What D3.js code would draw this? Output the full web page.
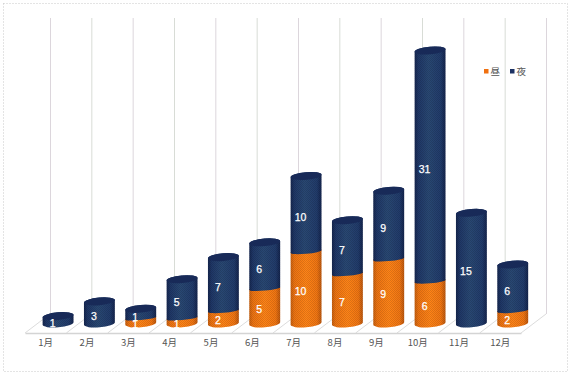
<!DOCTYPE html>
<html lang="ja">
<head>
<meta charset="utf-8">
<script src="https://cdn.jsdelivr.net/npm/d3@7"></script>
<style>
  html, body { margin: 0; padding: 0; background: #fff; }
  svg { display: block; }
  text { font-family: "Noto Sans CJK JP", "Liberation Sans", sans-serif; }
</style>
</head>
<body>
<div id="chart"></div>
<script>
const months = ['1月', '2月', '3月', '4月', '5月', '6月', '7月', '8月', '9月', '10月', '11月', '12月'];
const dayValues = [0, 0, 1, 1, 2, 5, 10, 7, 9, 6, 0, 2];
const nightValues = [1, 3, 1, 5, 7, 6, 10, 7, 9, 31, 15, 6];
const seriesNames = ['昼', '夜'];

const width = 570;
const height = 373;
const floor = { left: 25, right: 521, front: 333, dx: 25, dy: 19 };
const wallTop = 18;
const barOffset = 12.4;
const rx = 15.5;
const ry = 3.8;
const jointRy = 2;
const tilt = -5;

const svg = d3.select('#chart').append('svg').attr('width', width).attr('height', height);
const defs = svg.append('defs');

function addGradient(id, stops) {
  const grad = defs.append('linearGradient').attr('id', id);
  stops.forEach(([offset, color]) => grad.append('stop').attr('offset', offset).attr('stop-color', color));
}
addGradient('navy', [[0, '#15264f'], [0.12, '#1f3767'], [0.45, '#294873'], [0.85, '#213b6b'], [1, '#14244d']]);
addGradient('orange', [[0, '#c8600f'], [0.12, '#ee7412'], [0.5, '#ff8418'], [0.85, '#f27612'], [1, '#bd580e']]);

// dither texture of the original
const dither = defs.append('pattern').attr('id', 'dither')
  .attr('width', 2).attr('height', 2).attr('patternUnits', 'userSpaceOnUse');
dither.append('rect').attr('width', 1).attr('height', 1).attr('fill', '#000').attr('opacity', 0.12);
dither.append('rect').attr('x', 1).attr('y', 1).attr('width', 1).attr('height', 1).attr('fill', '#000').attr('opacity', 0.12);

// frame
svg.append('rect')
  .attr('x', 3.5).attr('y', 3.5)
  .attr('width', 564).attr('height', 368)
  .attr('fill', 'none')
  .attr('stroke', '#c8c8c8')
  .attr('stroke-dasharray', '1 2');

const x = d3.scaleBand().domain(months).range([floor.left, floor.right]);
const barX = d3.scaleBand().domain(months)
  .range([floor.left + barOffset, floor.right + barOffset])
  .paddingInner(0.25).paddingOuter(0.125);
const y = d3.scaleLinear().domain([0, 37]).range([323.5, 50.5]);

const g = svg.append('g');

// back wall lines
const edges = d3.range(months.length + 1).map(i => floor.left + i * x.step());
g.append('g').selectAll('line').data(edges).join('line')
  .attr('x1', d => d + floor.dx + 0.5)
  .attr('x2', d => d + floor.dx + 0.5)
  .attr('y1', wallTop)
  .attr('y2', floor.front - floor.dy)
  .attr('stroke', (d, i) => (i % 2 ? '#d8dcd6' : '#dcd6dc'));

// floor diagonals
g.append('g').selectAll('line').data(edges).join('line')
  .attr('x1', d => d)
  .attr('x2', d => d + floor.dx)
  .attr('y1', floor.front)
  .attr('y2', floor.front - floor.dy)
  .attr('stroke', '#dcdcdc');

// month axis on the front edge of the floor
const axis = g.append('g')
  .attr('transform', `translate(0,${floor.front})`)
  .call(d3.axisBottom(x).tickSize(0).tickPadding(6));
axis.select('.domain').attr('stroke', '#d4d4d4').attr('stroke-width', 1.5);
axis.selectAll('text').attr('font-size', 9.5).attr('fill', '#555')
  .style('font-family', '"Noto Sans CJK JP", sans-serif');

const rad = tilt * Math.PI / 180;
const ex = rx * Math.cos(rad);
const ey = rx * Math.sin(rad);

// side of a cylinder piece: cy0 is the upper level, cy1 the lower level
function sidePath(cx, cy0, cy1, lowerRy) {
  return `M${cx - ex},${cy0 - ey}L${cx - ex},${cy1 - ey}`
    + `A${rx},${lowerRy} ${tilt} 0 0 ${cx + ex},${cy1 + ey}`
    + `L${cx + ex},${cy0 + ey}`
    + `A${rx},${ry} ${tilt} 0 0 ${cx - ex},${cy0 - ey}Z`;
}

const rows = months.map((m, i) => ({ month: m, day: dayValues[i], night: nightValues[i] }));
const bars = g.append('g').selectAll('g').data(rows).join('g');
const cx = d => barX(d.month) + barX.bandwidth() / 2;
const joint = d => y(d.day) + 2;

const dayBars = bars.filter(d => d.day > 0);
dayBars.append('path')
  .attr('d', d => sidePath(cx(d), joint(d), y(0), ry))
  .attr('fill', 'url(#orange)');
dayBars.append('path')
  .attr('d', d => sidePath(cx(d), joint(d), y(0), ry))
  .attr('fill', 'url(#dither)');

// the night piece sits on the day piece, so it goes on top
const nightPath = d => (d.day > 0
  ? sidePath(cx(d), y(d.day + d.night), joint(d), jointRy)
  : sidePath(cx(d), y(d.night), y(0), ry));
bars.append('path').attr('d', nightPath).attr('fill', 'url(#navy)');
bars.append('path').attr('d', nightPath).attr('fill', 'url(#dither)');

bars.append('ellipse')
  .attr('rx', rx).attr('ry', ry)
  .attr('transform', d => `translate(${cx(d)},${y(d.day + d.night)}) rotate(${tilt})`)
  .attr('fill', '#182a58');

// value labels
function addLabels(sel, value, mid) {
  sel.append('text')
    .attr('x', d => cx(d) - 5.5)
    .attr('y', d => mid(d) + 3.5)
    .attr('dy', '0.35em')
    .attr('text-anchor', 'middle')
    .attr('fill', '#fff')
    .attr('stroke', '#fff')
    .attr('stroke-width', 0.25)
    .attr('font-size', 10.5)
    .style('font-family', '"Liberation Sans", sans-serif')
    .text(value);
}
addLabels(dayBars, d => d.day, d => (joint(d) + y(0)) / 2);
addLabels(bars, d => d.night, d => (y(d.day + d.night) + (d.day > 0 ? joint(d) : y(0))) / 2);

// legend
const legendColors = ['#f07010', '#1c3263'];
const legendX = d3.scalePoint().domain(seriesNames).range([484, 510]);
const legend = svg.append('g').selectAll('g').data(seriesNames).join('g')
  .attr('transform', d => `translate(${legendX(d)},69)`);
legend.append('rect')
  .attr('width', 4.5).attr('height', 4.5)
  .attr('fill', (d, i) => legendColors[i]);
legend.append('text')
  .attr('x', 6.5).attr('y', 2.5).attr('dy', '0.35em')
  .attr('font-size', 9.5).attr('fill', '#555')
  .text(d => d);
</script>
</body>
</html>
